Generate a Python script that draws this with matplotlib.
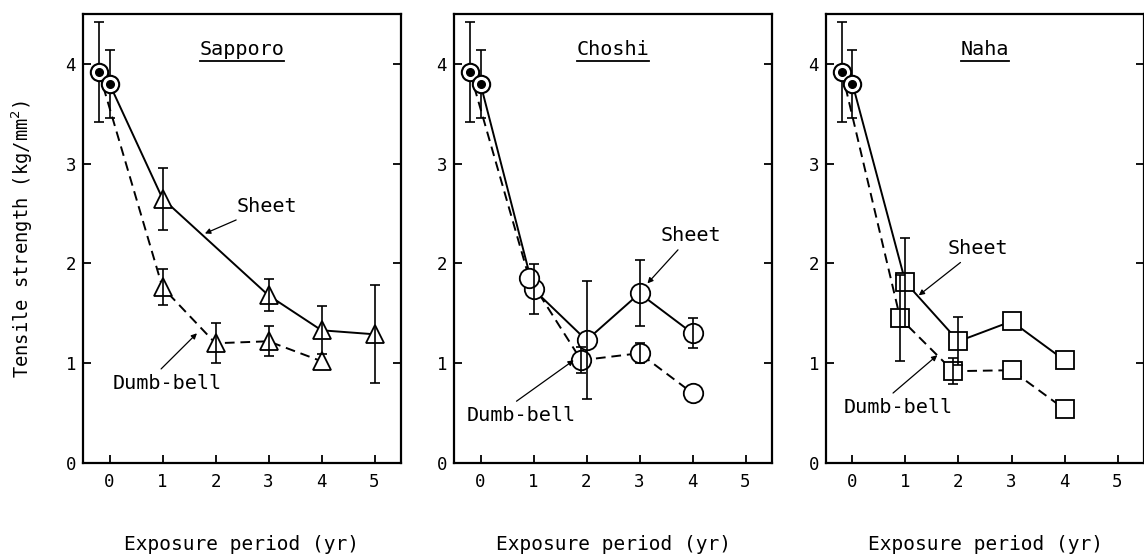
import numpy as np
import matplotlib
matplotlib.use("Agg")
import matplotlib.pyplot as plt

plt.rcParams['font.family'] = ['DejaVu Sans Mono', 'DejaVu Sans']

# initial (unexposed) strength, shared by all sites
init_dumb = (-0.2, 3.92, 0.50)
init_sheet = (0.0, 3.80, 0.34)

# Sapporo
sap_sheet_x = [1, 3, 4, 5]
sap_sheet_y = [2.65, 1.68, 1.33, 1.29]
sap_sheet_err = [0.31, 0.16, 0.24, 0.49]
sap_dumb_x = [1, 2, 3, 4]
sap_dumb_y = [1.76, 1.20, 1.22, 1.02]
sap_dumb_err = [0.18, 0.20, 0.15, 0.0]

# Choshi
cho_sheet_x = [1, 2, 3, 4]
cho_sheet_y = [1.74, 1.23, 1.70, 1.30]
cho_sheet_err = [0.25, 0.59, 0.33, 0.15]
cho_dumb_x = [0.92, 1.9, 3, 4]
cho_dumb_y = [1.85, 1.03, 1.10, 0.70]
cho_dumb_err = [0.0, 0.13, 0.10, 0.0]

# Naha
nah_sheet_x = [1, 2, 3, 4]
nah_sheet_y = [1.81, 1.22, 1.42, 1.03]
nah_sheet_err = [0.45, 0.24, 0.0, 0.0]
nah_dumb_x = [0.9, 1.9, 3, 4]
nah_dumb_y = [1.45, 0.92, 0.93, 0.54]
nah_dumb_err = [0.43, 0.13, 0.0, 0.0]

sites = ["Sapporo", "Choshi", "Naha"]
markers = ["^", "o", "s"]
msizes = [13.5, 14, 12.5]

# label positions: (text xy, arrow tip xy)
sheet_lbl = [((2.40, 2.57), (1.80, 2.30)), ((3.40, 2.28), (3.15, 1.80)), ((1.80, 2.15), (1.25, 1.68))]
dumb_lbl = [((0.06, 0.80), (1.65, 1.30)), ((-0.26, 0.48), (1.76, 1.03)), ((-0.16, 0.56), (1.60, 1.08))]

data = [
    (sap_sheet_x, sap_sheet_y, sap_sheet_err, sap_dumb_x, sap_dumb_y, sap_dumb_err),
    (cho_sheet_x, cho_sheet_y, cho_sheet_err, cho_dumb_x, cho_dumb_y, cho_dumb_err),
    (nah_sheet_x, nah_sheet_y, nah_sheet_err, nah_dumb_x, nah_dumb_y, nah_dumb_err),
]

fig = plt.figure(figsize=(11.44, 5.56), dpi=100)
lefts = [83, 454, 826]
axes = []
for i, left in enumerate(lefts):
    ax = fig.add_axes([left / 1144, 93 / 556, 318 / 1144, 449 / 556])
    axes.append(ax)

for i, ax in enumerate(axes):
    sx, sy, se, dx, dy, de = data[i]
    sx = np.r_[init_sheet[0], sx]
    sy = np.r_[init_sheet[1], sy]
    se = np.r_[init_sheet[2], se]
    dx = np.r_[init_dumb[0], dx]
    dy = np.r_[init_dumb[1], dy]
    de = np.r_[init_dumb[2], de]

    ax.plot(dx, dy, color='k', lw=1.4, ls=(0, (5, 3)), zorder=2)
    ax.plot(sx, sy, color='k', lw=1.4, ls='-', zorder=2)

    # open symbols for the exposed samples
    for xx, yy in ((sx[1:], sy[1:]), (dx[1:], dy[1:])):
        ax.plot(xx, yy, ls='none', marker=markers[i], ms=msizes[i],
                mfc='white', mec='k', mew=1.3, zorder=3)

    # error bars (only where measured)
    for xx, yy, ee in ((sx, sy, se), (dx, dy, de)):
        m = ee > 0
        ax.errorbar(xx[m], yy[m], yerr=ee[m], fmt='none', ecolor='k',
                    elinewidth=1.2, capsize=3.5, capthick=1.2, zorder=4)

    # initial values: dotted circle
    for px, py in ((init_dumb[0], init_dumb[1]), (init_sheet[0], init_sheet[1])):
        ax.plot(px, py, marker='o', ms=12.5, mfc='white', mec='k', mew=1.5, zorder=5)
        ax.plot(px, py, marker='o', ms=5.5, color='k', zorder=6)

    ax.set_xlim(-0.5, 5.5)
    ax.set_ylim(0, 4.5)
    ax.set_xticks(range(6))
    ax.set_yticks(range(5))
    ax.tick_params(direction='in', length=6, width=1.3, labelsize=12.5,
                   right=True, top=False)
    ax.tick_params(axis='x', pad=7)
    ax.tick_params(axis='y', pad=5)
    for sp in ax.spines.values():
        sp.set_linewidth(1.6)
    ax.set_xlabel("Exposure period (yr)", fontsize=14, labelpad=32)

    ax.text(2.5, 4.05, sites[i], fontsize=14.5, ha='center', va='bottom')

    (tx, ty), (ax_, ay) = sheet_lbl[i]
    ax.annotate("Sheet", xy=(ax_, ay), xytext=(tx, ty), fontsize=14.5,
                ha='left', va='center',
                arrowprops=dict(arrowstyle='-|>', color='k', lw=0.9,
                                mutation_scale=8, shrinkA=2, shrinkB=0))
    (tx, ty), (ax_, ay) = dumb_lbl[i]
    ax.annotate("Dumb-bell", xy=(ax_, ay), xytext=(tx, ty), fontsize=14.5,
                ha='left', va='center',
                arrowprops=dict(arrowstyle='-|>', color='k', lw=0.9,
                                mutation_scale=8, shrinkA=2, shrinkB=0,
                                relpos=(0.4, 1.0)))

axes[0].set_ylabel("Tensile strength (kg/mm$^2$)", fontsize=13.5, labelpad=22)

# underline the site names
fig.canvas.draw()
r = fig.canvas.get_renderer()
for ax in axes:
    t = [c for c in ax.texts if c.get_text() in sites][0]
    bb = t.get_window_extent(r).transformed(ax.transData.inverted())
    ax.plot([bb.x0, bb.x1], [bb.y0 - 0.02, bb.y0 - 0.02], color='k', lw=1.3)

fig.savefig("out.png", dpi=100)
